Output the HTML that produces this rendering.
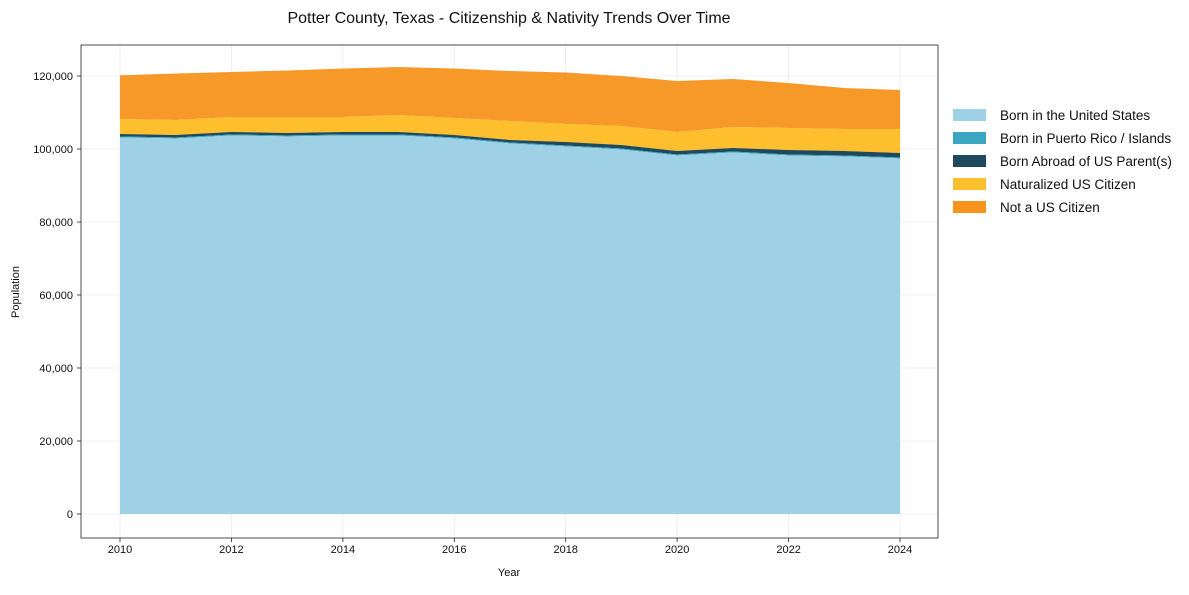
<!DOCTYPE html>
<html><head><meta charset="utf-8"><style>
body{margin:0;background:#fff;font-family:"Liberation Sans",Arial,sans-serif}
</style></head><body>
<svg width="1189" height="590" xmlns="http://www.w3.org/2000/svg" font-family="Liberation Sans, Arial, sans-serif">
<text x="509" y="23" font-size="16" text-anchor="middle" fill="#111">Potter County, Texas - Citizenship &amp; Nativity Trends Over Time</text>
<g stroke="#ebebeb" stroke-width="0.8">
<line x1="120" y1="45" x2="120" y2="538"/><line x1="231.4" y1="45" x2="231.4" y2="538"/><line x1="342.9" y1="45" x2="342.9" y2="538"/><line x1="454.3" y1="45" x2="454.3" y2="538"/><line x1="565.7" y1="45" x2="565.7" y2="538"/><line x1="677.1" y1="45" x2="677.1" y2="538"/><line x1="788.6" y1="45" x2="788.6" y2="538"/><line x1="900" y1="45" x2="900" y2="538"/>
<line x1="81" y1="514" x2="938" y2="514"/><line x1="81" y1="441" x2="938" y2="441"/><line x1="81" y1="368" x2="938" y2="368"/><line x1="81" y1="295" x2="938" y2="295"/><line x1="81" y1="222" x2="938" y2="222"/><line x1="81" y1="149" x2="938" y2="149"/><line x1="81" y1="76" x2="938" y2="76"/>
</g>
<polygon fill="#f7941d" fill-opacity="0.95" points="120,75.3 175.7,73.5 231.4,72 287.1,70.5 342.9,68.5 398.6,67 454.3,68.5 510,71 565.7,72.5 621.4,76 677.1,81 732.9,79 788.6,83 844.3,88 900,90 900,129 844.3,129 788.6,128 732.9,127 677.1,132 621.4,126 565.7,124 510,121 454.3,118 398.6,115 342.9,117 287.1,117 231.4,117 175.7,120 120,119"/>
<polygon fill="#fdbf2d" points="120,119 175.7,120 231.4,117 287.1,117 342.9,117 398.6,115 454.3,118 510,121 565.7,124 621.4,126 677.1,132 732.9,127 788.6,128 844.3,129 900,129 900,153 844.3,151 788.6,150 732.9,148 677.1,151 621.4,145 565.7,142 510,140 454.3,135 398.6,132 342.9,132 287.1,133 231.4,132 175.7,135 120,134"/>
<polygon fill="#1f4a5e" points="120,134 175.7,135 231.4,132 287.1,133 342.9,132 398.6,132 454.3,135 510,140 565.7,142 621.4,145 677.1,151 732.9,148 788.6,150 844.3,151 900,153 900,157.5 844.3,155.5 788.6,154.5 732.9,151.5 677.1,154.5 621.4,148.5 565.7,145.5 510,142.5 454.3,137.5 398.6,134.5 342.9,134.5 287.1,135.5 231.4,134.5 175.7,137.5 120,136.5"/>
<polygon fill="#3aa6c1" points="120,136.5 175.7,137.5 231.4,134.5 287.1,135.5 342.9,134.5 398.6,134.5 454.3,137.5 510,142.5 565.7,145.5 621.4,148.5 677.1,154.5 732.9,151.5 788.6,154.5 844.3,155.5 900,157.5 900,158.5 844.3,156.5 788.6,155.5 732.9,152.5 677.1,155.5 621.4,149.5 565.7,146.5 510,143.5 454.3,138.5 398.6,135.5 342.9,135.5 287.1,136.5 231.4,135.5 175.7,138.5 120,137.5"/>
<polygon fill="#9fd1e6" points="120,137.5 175.7,138.5 231.4,135.5 287.1,136.5 342.9,135.5 398.6,135.5 454.3,138.5 510,143.5 565.7,146.5 621.4,149.5 677.1,155.5 732.9,152.5 788.6,155.5 844.3,156.5 900,158.5 900,514 120,514"/>
<rect x="81" y="45" width="857" height="493" fill="none" stroke="#222" stroke-width="0.8"/>
<g font-size="11" fill="#111" text-anchor="middle">
<text x="120" y="553">2010</text><text x="231.4" y="553">2012</text><text x="342.9" y="553">2014</text><text x="454.3" y="553">2016</text><text x="565.7" y="553">2018</text><text x="677.1" y="553">2020</text><text x="788.6" y="553">2022</text><text x="900" y="553">2024</text>
<text x="509" y="576">Year</text>
</g>
<g stroke="#222" stroke-width="0.8">
<line x1="120" y1="538" x2="120" y2="542"/><line x1="231.4" y1="538" x2="231.4" y2="542"/><line x1="342.9" y1="538" x2="342.9" y2="542"/><line x1="454.3" y1="538" x2="454.3" y2="542"/><line x1="565.7" y1="538" x2="565.7" y2="542"/><line x1="677.1" y1="538" x2="677.1" y2="542"/><line x1="788.6" y1="538" x2="788.6" y2="542"/><line x1="900" y1="538" x2="900" y2="542"/>
<line x1="77" y1="514" x2="81" y2="514"/><line x1="77" y1="441" x2="81" y2="441"/><line x1="77" y1="368" x2="81" y2="368"/><line x1="77" y1="295" x2="81" y2="295"/><line x1="77" y1="222" x2="81" y2="222"/><line x1="77" y1="149" x2="81" y2="149"/><line x1="77" y1="76" x2="81" y2="76"/>
</g>
<g font-size="11" fill="#111" text-anchor="end">
<text x="73" y="518">0</text><text x="73" y="445">20,000</text><text x="73" y="372">40,000</text><text x="73" y="299">60,000</text><text x="73" y="226">80,000</text><text x="73" y="153">100,000</text><text x="73" y="80">120,000</text>
</g>
<text x="19" y="292" font-size="11" fill="#111" text-anchor="middle" transform="rotate(-90 19 292)">Population</text>
<g font-size="13.5" fill="#111">
<rect x="953" y="109" width="33" height="12" fill="#9fd1e6"/><text x="1000" y="120">Born in the United States</text>
<rect x="953" y="132" width="33" height="12" fill="#3aa6c1"/><text x="1000" y="143">Born in Puerto Rico / Islands</text>
<rect x="953" y="155" width="33" height="12" fill="#1f4a5e"/><text x="1000" y="166">Born Abroad of US Parent(s)</text>
<rect x="953" y="178" width="33" height="12" fill="#fdbf2d"/><text x="1000" y="189">Naturalized US Citizen</text>
<rect x="953" y="201" width="33" height="12" fill="#f7941d"/><text x="1000" y="212">Not a US Citizen</text>
</g>
</svg>
</body></html>
